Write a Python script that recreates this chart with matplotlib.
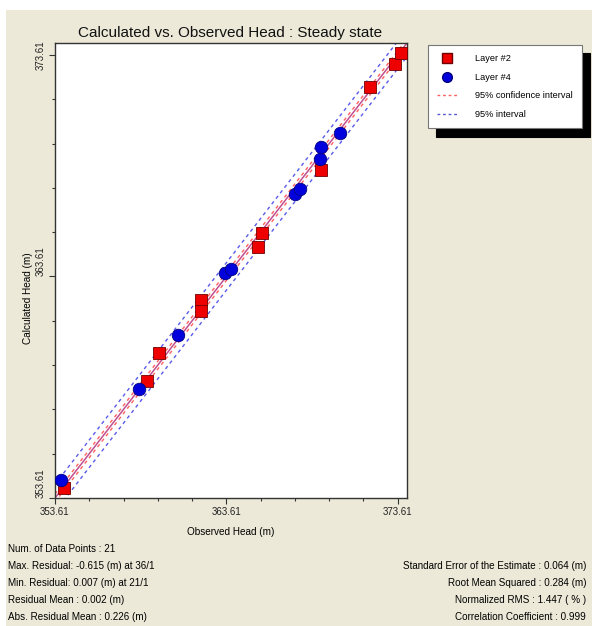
import matplotlib.pyplot as plt
from matplotlib.patches import Rectangle
from matplotlib.ticker import FixedLocator
import numpy as np

# observed / calculated head values (m)
layer2_obs = [354.16, 359.00, 359.65, 362.14, 362.14, 365.47, 365.67, 369.14, 371.98, 373.47, 373.80]
layer2_calc = [354.05, 358.89, 360.14, 362.55, 362.07, 364.93, 365.56, 368.42, 372.18, 373.19, 373.71]
layer4_obs = [353.94, 358.51, 360.76, 363.51, 363.90, 367.63, 367.92, 369.06, 369.16, 370.22]
layer4_calc = [354.42, 358.53, 360.97, 363.78, 363.94, 367.33, 367.56, 368.90, 369.47, 370.10]

axis_min = 353.61
axis_max = 374.15
major_ticks = [353.61, 363.61, 373.61]
conf_half = 0.18
pred_half = 0.62

stats_left = [
    "Num. of Data Points : 21",
    "Max. Residual: -0.615 (m) at 36/1",
    "Min. Residual: 0.007 (m) at 21/1",
    "Residual Mean : 0.002 (m)",
    "Abs. Residual Mean : 0.226 (m)",
]
stats_right = [
    "Standard Error of the Estimate : 0.064 (m)",
    "Root Mean Squared : 0.284 (m)",
    "Normalized RMS : 1.447 ( % )",
    "Correlation Coefficient : 0.999",
]

plt.rcParams['font.family'] = ['Liberation Sans', 'DejaVu Sans']

W, H = 592, 626
fig = plt.figure(figsize=(W / 100, H / 100), dpi=100, facecolor='white')
fig.patches.append(Rectangle((6 / W, 0), 1, 1 - 10 / H, transform=fig.transFigure,
                             facecolor='#ECE9D8', edgecolor='none', zorder=-10))

ax = fig.add_axes([55 / W, 1 - 498 / H, 352 / W, 455 / H])
ax.set_facecolor('white')

line_x = np.array([axis_min, axis_max])
ax.plot(line_x, line_x, color='#c04f8f', lw=1.1, zorder=2)
for s in (-1, 1):
    ax.plot(line_x, line_x + s * conf_half, color='#ff6060', lw=1,
            linestyle=(0, (2.5, 2.5)), zorder=2)
    ax.plot(line_x, line_x + s * pred_half, color='#5a5ae8', lw=1,
            linestyle=(0, (2.5, 2.5)), zorder=2)

ax.plot(layer2_obs, layer2_calc, 's', color='#ee0000', markeredgecolor='#700000',
        markeredgewidth=0.6, markersize=9, linestyle='none', zorder=3)
ax.plot(layer4_obs, layer4_calc, 'o', color='#0000dd', markeredgecolor='#000080',
        markeredgewidth=0.6, markersize=9, linestyle='none', zorder=4)

ax.set_xlim(axis_min, axis_max)
ax.set_ylim(axis_min, axis_max)
ax.xaxis.set_major_locator(FixedLocator(major_ticks))
ax.yaxis.set_major_locator(FixedLocator(major_ticks))
ax.xaxis.set_minor_locator(FixedLocator(np.arange(axis_min, axis_max, 2.0)))
ax.yaxis.set_minor_locator(FixedLocator(np.arange(axis_min, axis_max, 2.0)))
ax.set_xticklabels(['%.2f' % t for t in major_ticks])
ax.set_yticklabels(['%.2f' % t for t in major_ticks], rotation=90)
ytl = ax.get_yticklabels()
ytl[0].set_va('bottom')
ytl[1].set_va('bottom')
ytl[2].set_va('center')
ax.tick_params(which='major', direction='out', length=4.5, width=0.8, labelsize=7, pad=2,
               color='#333333', labelcolor='#222222')
ax.tick_params(which='minor', direction='out', length=2.5, width=0.8, color='#333333')
for sp in ax.spines.values():
    sp.set_color('#333333')
    sp.set_linewidth(1)

ax.set_xlabel('Observed Head (m)', fontsize=7.2)
ax.xaxis.set_label_coords(0.5, -29 / 455)
ax.set_ylabel('Calculated Head (m)', fontsize=7.2)
ax.yaxis.set_label_coords(-22 / 352, 0.44)
fig.text(230 / W, 1 - 33 / H, 'Calculated vs. Observed Head : Steady state',
         ha='center', va='center', fontsize=11, color='#111111')

h1, = ax.plot([], [], 's', color='#ee0000', markeredgecolor='#700000', markersize=7)
h2, = ax.plot([], [], 'o', color='#0000dd', markeredgecolor='#000080', markersize=7)
h3, = ax.plot([], [], color='#ff6060', lw=1, linestyle=(0, (2, 2)))
h4, = ax.plot([], [], color='#5a5ad0', lw=1, linestyle=(0, (2, 2)))
leg = fig.legend([h1, h2, h3, h4],
                 ['Layer #2', 'Layer #4', '95% confidence interval', '95% interval'],
                 loc='upper left', bbox_to_anchor=(428 / W, 1 - 45 / H),
                 fontsize=6.6, frameon=True, fancybox=False, handlelength=2.2,
                 borderpad=1.0, labelspacing=1.05, handletextpad=1.9, borderaxespad=0,
                 shadow={'ox': 6, 'oy': -6, 'color': 'black', 'alpha': 1})
leg.get_frame().set_edgecolor('#777777')
leg.get_frame().set_linewidth(0.8)
leg.get_frame().set_facecolor('white')

for i, t in enumerate(stats_left):
    fig.text(8 / W, 1 - (549 + 17 * i) / H, t, ha='left', va='center', fontsize=7.1)
for i, t in enumerate(stats_right):
    fig.text(586 / W, 1 - (566 + 17 * i) / H, t, ha='right', va='center', fontsize=7.1)

fig.savefig('out.png', dpi=100, facecolor=fig.get_facecolor())
